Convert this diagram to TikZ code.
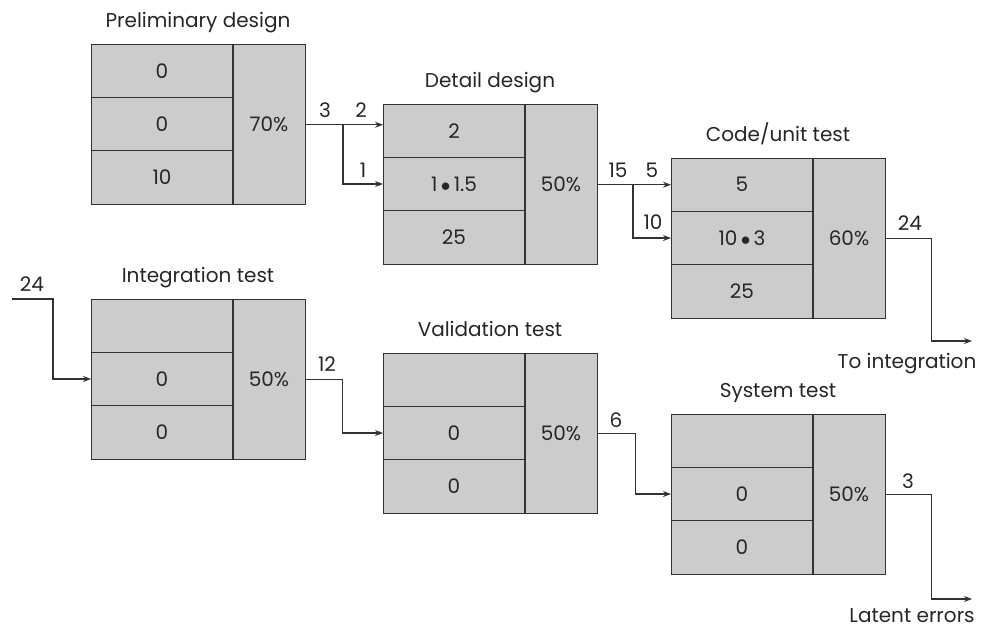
\documentclass[tikz,border=0pt]{standalone}
\usepackage{fontspec}
\setmainfont{Poppins}
\usetikzlibrary{arrows.meta}
\tikzset{
  stage/.style={draw=black!80, fill=black!20, line width=1.1pt,
    minimum width=160.5pt, minimum height=120pt, inner sep=0pt, anchor=north west},
  cell/.style={draw=black!80, line width=1.1pt},
  flow/.style={draw=black!80, line width=0.9pt, -{Stealth[length=6pt,width=4.5pt]}},
  lbl/.style={anchor=base, inner sep=0pt},
}
\begin{document}
\begin{tikzpicture}[x=0.75pt, y=-0.75pt,
    every node/.style={font=\fontsize{15}{18}\selectfont, text=black!85}]
  \useasboundingbox (0,0) rectangle (981,628);

  % stages: name/left/top/title/rows/percent
  \foreach \n/\x/\y/\t/\a/\b/\c/\p in {
      pd/91/44/{Preliminary design}/0/0/10/70\%,
      dd/383/104/{Detail design}/2/{1\,$\bullet$\,1.5}/25/50\%,
      cu/671/158/{Code/unit test}/5/{10\,$\bullet$\,3}/25/60\%,
      it/91/299/{Integration test}//0/0/50\%,
      vt/383/353/{Validation test}//0/0/50\%,
      st/671/414/{System test}//0/0/50\%}
  {
    \node[stage] (\n) at (\x,\y) {};
    \draw[cell] (\x+142,\y) -- (\x+142,\y+160)
                (\x,\y+53.3) -- (\x+142,\y+53.3)
                (\x,\y+106.7) -- (\x+142,\y+106.7);
    \node (\n-a) at (\x+71,\y+26.7) {\a};
    \node (\n-b) at (\x+71,\y+80) {\b};
    \node (\n-c) at (\x+71,\y+133.3) {\c};
    \node (\n-p) at (\x+178,\y+80) {\p};
    \node[lbl] (\n-t) at (\x+107,\y-17) {\t};
  }

  \coordinate (pd-out) at (343,124);
  \coordinate (dd-out) at (633,184);
  \coordinate (cu-end) at (972,341);
  \coordinate (it-in)  at (12,299);
  \coordinate (st-end) at (972,599);

  \draw[flow] (pd.east) -- (pd.east -| dd.west);
  \draw[flow] (pd-out) |- (dd-b -| dd.west);
  \draw[flow] (dd.east) -- (dd.east -| cu.west);
  \draw[flow] (dd-out) |- (cu-b -| cu.west);
  \draw[flow] (cu.east) -- ++(45,0) |- (cu-end);
  \draw[flow] (it-in) -- ++(41,0) |- (it-b -| it.west);
  \draw[flow] (it.east) -- ++(36,0) |- (vt-b -| vt.west);
  \draw[flow] (vt.east) -- ++(37,0) |- (st-b -| st.west);
  \draw[flow] (st.east) -- ++(45,0) |- (st-end);

  \node[lbl] (l-pd)  at (325,117) {3};
  \node[lbl] (l-dd1) at (361,117) {2};
  \node[lbl] (l-dd2) at (363,177) {1};
  \node[lbl] (l-dd)  at (618,177) {15};
  \node[lbl] (l-cu1) at (652,177) {5};
  \node[lbl] (l-cu2) at (653,229) {10};
  \node[lbl] (l-cu)  at (910,230) {24};
  \node[lbl] (l-it)  at (32,291)  {24};
  \node[lbl] (l-vt)  at (327,371) {12};
  \node[lbl] (l-st)  at (616,427) {6};
  \node[lbl] (l-out) at (908,488) {3};
  \node[lbl] (to-int) at (907,368) {To integration};
  \node[lbl] (latent) at (912,622) {Latent errors};
\end{tikzpicture}
\end{document}
